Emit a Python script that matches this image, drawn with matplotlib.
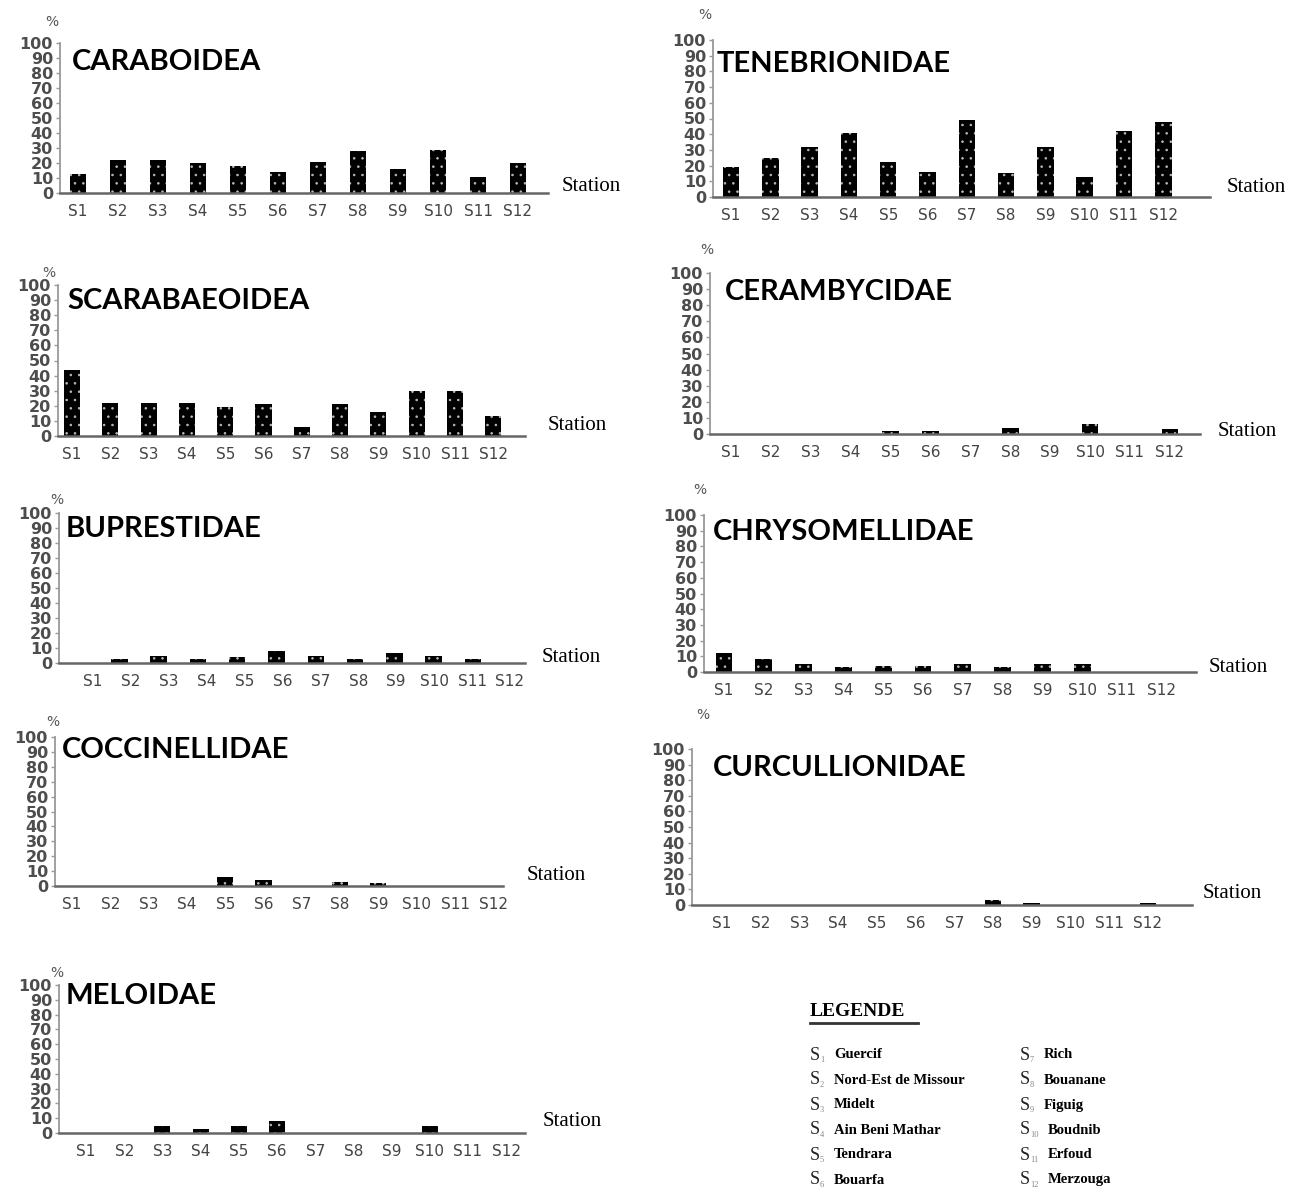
import numpy as np
import matplotlib
matplotlib.use("Agg")
import matplotlib.pyplot as plt

plt.rcParams['hatch.linewidth'] = 0.6

W, H = 1311, 1189

stations = ['S1', 'S2', 'S3', 'S4', 'S5', 'S6', 'S7', 'S8', 'S9', 'S10', 'S11', 'S12']

caraboidea = [13, 22, 22, 20, 18, 14, 21, 28, 16, 29, 11, 20]
tenebrionidae = [19, 25, 32, 41, 22, 16, 49, 15, 32, 13, 42, 48]
scarabaeoidea = [44, 22, 22, 22, 19, 21, 6, 21, 16, 30, 30, 13]
cerambycidae = [0, 0, 0, 0, 2, 2, 0, 4, 0, 6, 0, 3]
buprestidae = [0, 3, 5, 3, 4, 8, 5, 3, 7, 5, 3, 0]
chrysomellidae = [12, 8, 5, 3, 4, 4, 5, 3, 5, 5, 0, 0]
coccinellidae = [0, 0, 0, 0, 6, 4, 0, 3, 2, 0, 0, 0]
curcullionidae = [0, 0, 0, 0, 0, 0, 0, 3, 1, 0, 0, 1.5]
meloidae = [0, 0, 5, 3, 5, 8, 0, 0, 0, 5, 0, 0]

legend_left = ['Guercif', 'Nord-Est de Missour', 'Midelt', 'Ain Beni Mathar', 'Tendrara', 'Bouarfa']
legend_right = ['Rich', 'Bouanane', 'Figuig', 'Boudnib', 'Erfoud', 'Merzouga']

# layout in pixels:
# name, values, axis_left, axis_right, y_zero, y_100, bar_S1, bar_step, lab_S1, lab_step,
# title (x, y), percent (x, y), station (x, y)
panels = [
    ('CARABOIDEA', caraboidea, 60, 548, 193, 43, 78, 40.0, 78, 40.0, (72, 62), (52, 22), (562, 187)),
    ('TENEBRIONIDAE', tenebrionidae, 713, 1210, 197, 40, 731, 39.3, 731, 39.3, (717, 64), (705, 15), (1227, 188)),
    ('SCARABAEOIDEA', scarabaeoidea, 58, 525, 436, 285, 72, 38.3, 72, 38.3, (67, 301), (49, 273), (548, 426)),
    ('CERAMBYCIDAE', cerambycidae, 710, 1200, 434, 273, 731, 39.9, 731, 39.9, (725, 292), (707, 250), (1218, 432)),
    ('BUPRESTIDAE', buprestidae, 59, 525, 663, 513, 80, 39.3, 93, 37.9, (66, 529), (57, 500), (542, 657)),
    ('CHRYSOMELLIDAE', chrysomellidae, 704, 1196, 672, 515, 724, 39.8, 724, 39.8, (713, 532), (700, 490), (1209, 668)),
    ('COCCINELLIDAE', coccinellidae, 55, 503, 886, 737, 72, 38.3, 72, 38.3, (62, 750), (53, 722), (527, 876)),
    ('CURCULLIONIDAE', curcullionidae, 692, 1192, 905, 749, 722, 38.7, 722, 38.7, (713, 768), (703, 715), (1203, 893)),
    ('MELOIDAE', meloidae, 59, 525, 1133, 985, 86, 38.2, 86, 38.2, (66, 996), (57, 973), (543, 1121)),
]

fig = plt.figure(figsize=(W / 100, H / 100), dpi=100)
fig.patch.set_facecolor('white')

x = np.arange(len(stations))

for (name, vals, xl, xr, y0, y100, b0, bstep, l0, lstep, tpos, ppos, spos) in panels:
    ax = fig.add_axes([xl / W, 1 - y0 / H, (xr - xl) / W, (y0 - y100) / H])
    ax.bar(x, vals, width=0.42, color='black', edgecolor='#bbbbbb', hatch='..', linewidth=0)
    ax.set_xlim((xl - b0) / bstep, (xr - b0) / bstep)
    ax.set_ylim(0, 100)
    ax.patch.set_alpha(0)

    for s in ['top', 'right']:
        ax.spines[s].set_visible(False)
    ax.spines['left'].set_color('#999999')
    ax.spines['left'].set_linewidth(1.3)
    ax.spines['bottom'].set_color('#666666')
    ax.spines['bottom'].set_linewidth(1.8)

    ax.set_yticks(range(0, 101, 10))
    ax.set_yticklabels([str(v) for v in range(0, 101, 10)], fontsize=11.5,
                       fontweight='bold', color='#4d4d4d', family='DejaVu Sans')
    ax.tick_params(axis='y', length=3, width=1, color='#999999', pad=2)

    lab_pos = [(l0 + i * lstep - b0) / bstep for i in range(len(stations))]
    ax.set_xticks(lab_pos)
    ax.set_xticklabels(stations, fontsize=11, color='#444444', family='DejaVu Sans')
    ax.tick_params(axis='x', length=0, pad=8)

    fig.text(tpos[0] / W, 1 - tpos[1] / H, name, fontsize=21, fontweight='bold',
             family='Lato', va='center', ha='left')
    fig.text(ppos[0] / W, 1 - ppos[1] / H, '%', fontsize=10, color='#555555',
             va='center', ha='center')
    fig.text(spos[0] / W, 1 - spos[1] / H, 'Station', fontsize=15,
             family='Liberation Serif', va='center', ha='left')

# legend block
fig.text(810 / W, 1 - 1011 / H, 'LEGENDE', fontsize=14, fontweight='bold',
         family='Liberation Serif', va='center', ha='left')
fig.add_artist(plt.Line2D([810 / W, 918 / W], [1 - 1023 / H, 1 - 1023 / H],
                          color='#333333', linewidth=2))

for col, (names, xpos, start) in enumerate([(legend_left, 810, 1), (legend_right, 1020, 7)]):
    for i, nm in enumerate(names):
        yy = 1 - (1055 + i * 25) / H
        fig.text(xpos / W, yy, 'S', fontsize=13,
                 family='Liberation Serif', va='center', ha='left', color='#222222')
        fig.text((xpos + 10) / W, yy - 5 / H, str(start + i), fontsize=6,
                 family='Liberation Serif', va='center', ha='left', color='#888888')
        off = 24 if start + i < 10 else 28
        fig.text((xpos + off) / W, yy, nm, fontsize=10.5, fontweight='bold',
                 family='Liberation Serif', va='center', ha='left')

fig.savefig('out.png', dpi=100, facecolor='white')
